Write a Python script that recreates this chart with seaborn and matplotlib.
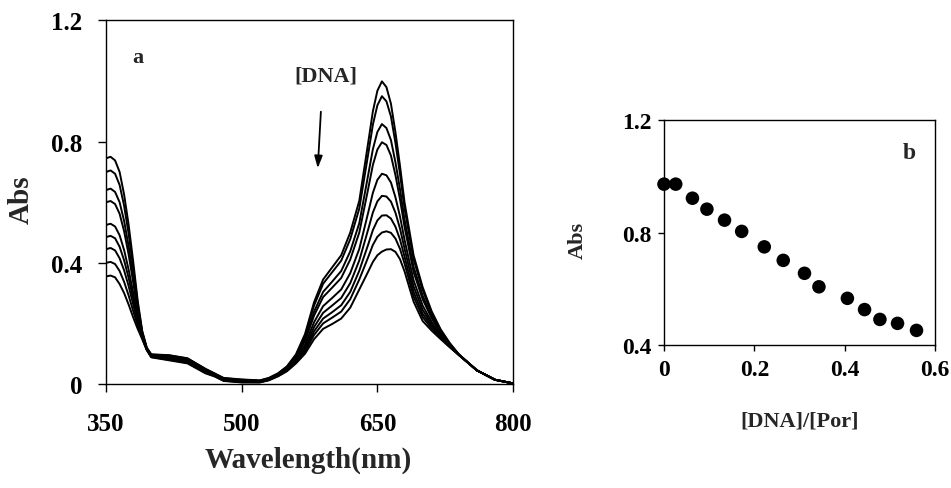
import matplotlib
matplotlib.use("Agg")
import matplotlib.pyplot as plt
import seaborn as sns
import pandas as pd

# ---------------- data ----------------
wavelength = [350, 355, 360, 365, 370, 375, 380, 385, 390, 395, 400,
              420, 440, 460, 470, 480, 500, 520, 530, 540, 550,
              560, 570, 580, 590, 600, 610, 620, 630, 640,
              645, 650, 655, 660, 665, 670, 675, 680,
              690, 700, 710, 720, 730, 740, 760, 780, 800]

spec_1 = [0.745, 0.750, 0.738, 0.700, 0.625, 0.525, 0.405, 0.275, 0.175, 0.120, 0.098,
          0.095, 0.085, 0.050, 0.035, 0.020, 0.015, 0.012, 0.020, 0.035, 0.058,
          0.098, 0.165, 0.270, 0.345, 0.385, 0.425, 0.500, 0.605, 0.800,
          0.900, 0.968, 0.999, 0.980, 0.925, 0.830, 0.720, 0.600,
          0.425, 0.320, 0.240, 0.180, 0.135, 0.098, 0.045, 0.014, 0.002]
spec_2 = [0.700, 0.705, 0.694, 0.657, 0.588, 0.495, 0.384, 0.264, 0.172, 0.119, 0.097,
          0.094, 0.084, 0.049, 0.034, 0.019, 0.014, 0.011, 0.019, 0.034, 0.057,
          0.095, 0.159, 0.259, 0.331, 0.369, 0.407, 0.478, 0.579, 0.762,
          0.856, 0.920, 0.950, 0.933, 0.883, 0.795, 0.693, 0.580,
          0.412, 0.310, 0.234, 0.177, 0.134, 0.098, 0.045, 0.014, 0.002]
spec_3 = [0.640, 0.645, 0.634, 0.600, 0.538, 0.454, 0.355, 0.250, 0.168, 0.118, 0.095,
          0.091, 0.081, 0.046, 0.032, 0.018, 0.012, 0.010, 0.018, 0.032, 0.054,
          0.090, 0.149, 0.239, 0.304, 0.338, 0.373, 0.438, 0.531, 0.693,
          0.775, 0.832, 0.858, 0.845, 0.805, 0.731, 0.643, 0.543,
          0.387, 0.292, 0.224, 0.172, 0.131, 0.097, 0.045, 0.014, 0.002]
spec_4 = [0.600, 0.604, 0.594, 0.562, 0.504, 0.427, 0.336, 0.240, 0.165, 0.117, 0.094,
          0.089, 0.079, 0.045, 0.031, 0.016, 0.011, 0.010, 0.017, 0.031, 0.052,
          0.087, 0.142, 0.226, 0.287, 0.318, 0.350, 0.411, 0.500, 0.647,
          0.723, 0.774, 0.798, 0.789, 0.754, 0.689, 0.610, 0.519,
          0.370, 0.280, 0.217, 0.169, 0.130, 0.097, 0.045, 0.014, 0.002]
spec_5 = [0.525, 0.529, 0.520, 0.491, 0.442, 0.377, 0.301, 0.223, 0.160, 0.115, 0.092,
          0.086, 0.076, 0.042, 0.030, 0.015, 0.010, 0.008, 0.016, 0.030, 0.049,
          0.082, 0.130, 0.204, 0.257, 0.284, 0.312, 0.366, 0.446, 0.568,
          0.631, 0.674, 0.694, 0.689, 0.665, 0.616, 0.553, 0.476,
          0.342, 0.259, 0.205, 0.163, 0.127, 0.097, 0.045, 0.014, 0.002]
spec_6 = [0.485, 0.489, 0.481, 0.453, 0.408, 0.350, 0.282, 0.213, 0.157, 0.115, 0.091,
          0.084, 0.074, 0.040, 0.028, 0.013, 0.008, 0.007, 0.015, 0.028, 0.047,
          0.078, 0.121, 0.188, 0.235, 0.259, 0.284, 0.333, 0.408, 0.512,
          0.566, 0.603, 0.621, 0.619, 0.602, 0.565, 0.513, 0.447,
          0.322, 0.245, 0.197, 0.158, 0.126, 0.096, 0.045, 0.014, 0.002]
spec_7 = [0.445, 0.449, 0.441, 0.415, 0.375, 0.323, 0.263, 0.203, 0.154, 0.114, 0.090,
          0.082, 0.072, 0.038, 0.027, 0.012, 0.007, 0.006, 0.014, 0.027, 0.045,
          0.074, 0.114, 0.174, 0.216, 0.237, 0.260, 0.304, 0.374, 0.462,
          0.508, 0.540, 0.556, 0.557, 0.546, 0.519, 0.477, 0.420,
          0.304, 0.232, 0.190, 0.155, 0.124, 0.096, 0.045, 0.014, 0.002]
spec_8 = [0.400, 0.403, 0.396, 0.373, 0.337, 0.292, 0.241, 0.193, 0.151, 0.113, 0.089,
          0.080, 0.070, 0.037, 0.026, 0.011, 0.006, 0.006, 0.013, 0.026, 0.044,
          0.071, 0.107, 0.162, 0.200, 0.219, 0.239, 0.280, 0.345, 0.420,
          0.459, 0.486, 0.500, 0.504, 0.499, 0.480, 0.446, 0.398,
          0.289, 0.221, 0.183, 0.152, 0.123, 0.096, 0.045, 0.014, 0.002]
spec_9 = [0.355, 0.358, 0.352, 0.330, 0.300, 0.262, 0.220, 0.182, 0.148, 0.112, 0.088,
          0.078, 0.068, 0.035, 0.025, 0.010, 0.005, 0.005, 0.012, 0.025, 0.042,
          0.068, 0.100, 0.148, 0.182, 0.198, 0.216, 0.252, 0.312, 0.372,
          0.403, 0.425, 0.437, 0.444, 0.445, 0.436, 0.412, 0.372,
          0.272, 0.208, 0.176, 0.148, 0.121, 0.096, 0.045, 0.014, 0.002]
spectra = [spec_1, spec_2, spec_3, spec_4, spec_5, spec_6, spec_7, spec_8, spec_9]

dna_por_ratio = [0.0, 0.026, 0.063, 0.095, 0.134, 0.172, 0.222, 0.264,
                 0.311, 0.343, 0.406, 0.444, 0.478, 0.517, 0.559]
abs_at_peak = [0.972, 0.972, 0.922, 0.883, 0.844, 0.804, 0.749, 0.701,
               0.655, 0.607, 0.566, 0.526, 0.491, 0.477, 0.452]

xticks_a = [350, 500, 650, 800]
yticks_a = [0, 0.4, 0.8, 1.2]
yticklabels_a = ["0", "0.4", "0.8", "1.2"]
xticks_b = [0, 0.2, 0.4, 0.6]
xticklabels_b = ["0", "0.2", "0.4", "0.6"]
yticks_b = [0.4, 0.8, 1.2]
yticklabels_b = ["0.4", "0.8", "1.2"]

# ---------------- style ----------------
sns.set_theme(style="white")
plt.rcParams["font.family"] = ["Liberation Serif", "DejaVu Serif"]
plt.rcParams["font.weight"] = "bold"
plt.rcParams["axes.labelweight"] = "bold"

fig = plt.figure(figsize=(9.51, 4.89), dpi=100)
axa = fig.add_axes([0.1115, 0.2127, 0.428, 0.7434])
axb = fig.add_axes([0.6982, 0.2924, 0.285, 0.4601])

# ---------------- panel a ----------------
for vals in spectra:
    df = pd.DataFrame({"Wavelength": wavelength, "Abs": vals})
    sns.lineplot(data=df, x="Wavelength", y="Abs", ax=axa, color="black",
                 linewidth=1.4, sort=False, legend=False)

axa.set_xlim(350, 800)
axa.set_ylim(0, 1.2)
axa.set_xticks(xticks_a)
axa.set_xticklabels([str(t) for t in xticks_a])
axa.set_yticks(yticks_a)
axa.set_yticklabels(yticklabels_a)
axa.tick_params(axis="both", direction="out", length=6, width=1, colors="black",
                labelsize=18, bottom=True, left=True)
axa.tick_params(axis="x", pad=14)
axa.tick_params(axis="y", pad=11)
for lab in axa.get_xticklabels() + axa.get_yticklabels():
    lab.set_fontweight("bold")
for sp in axa.spines.values():
    sp.set_visible(True)
    sp.set_color("black")
    sp.set_linewidth(1.0)

axa.set_xlabel("Wavelength(nm)", fontsize=21, fontweight="bold")
axa.set_ylabel("Abs", fontsize=21, fontweight="bold")
axa.xaxis.set_label_coords(0.498, -0.206)
axa.xaxis.label.set_va("center")
axa.yaxis.set_label_coords(-0.2076, 0.509)
axa.yaxis.label.set_va("center")

axa.text(384.7, 1.08, "a", fontsize=16, fontweight="bold", ha="center", va="center")
axa.text(593, 1.017, "[DNA]", fontsize=16, fontweight="bold", ha="center", va="center")
axa.annotate("", xy=(583.9, 0.703), xytext=(587.7, 0.908),
             arrowprops=dict(arrowstyle="-|>,head_length=0.6,head_width=0.2",
                             color="black", lw=1.3))

# ---------------- panel b ----------------
dfb = pd.DataFrame({"ratio": dna_por_ratio, "Abs": abs_at_peak})
sns.scatterplot(data=dfb, x="ratio", y="Abs", ax=axb, color="black", s=95,
                edgecolor="none", clip_on=False, zorder=3, legend=False)
axb.set_xlim(0, 0.6)
axb.set_ylim(0.4, 1.2)
axb.set_xticks(xticks_b)
axb.set_xticklabels(xticklabels_b)
axb.set_yticks(yticks_b)
axb.set_yticklabels(yticklabels_b)
axb.tick_params(axis="both", direction="out", length=4, width=1, colors="black",
                labelsize=17, bottom=True, left=True)
axb.tick_params(axis="x", pad=6)
axb.tick_params(axis="y", pad=5)
for lab in axb.get_xticklabels() + axb.get_yticklabels():
    lab.set_fontweight("bold")
for sp in axb.spines.values():
    sp.set_visible(True)
    sp.set_color("black")
    sp.set_linewidth(1.0)

axb.set_xlabel("[DNA]/[Por]", fontsize=16, fontweight="bold")
axb.set_ylabel("Abs", fontsize=16, fontweight="bold")
axb.xaxis.set_label_coords(0.502, -0.336)
axb.xaxis.label.set_va("center")
axb.yaxis.set_label_coords(-0.317, 0.471)
axb.yaxis.label.set_va("center")
axb.text(0.543, 1.085, "b", fontsize=17, fontweight="bold", ha="center", va="center")

fig.savefig("out.png", dpi=100)
